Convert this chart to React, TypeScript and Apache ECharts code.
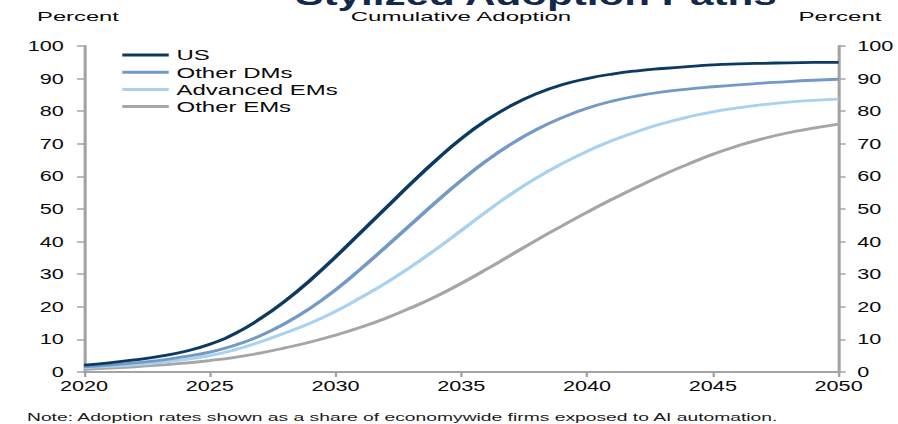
import React, { useEffect, useRef } from "react";
import * as echarts from "echarts";

// ---- data ----
const years = [
  2020, 2021, 2022, 2023, 2024, 2025, 2026, 2027, 2028, 2029, 2030, 2031, 2032, 2033, 2034, 2035,
  2036, 2037, 2038, 2039, 2040, 2041, 2042, 2043, 2044, 2045, 2046, 2047, 2048, 2049, 2050,
];
const seriesNames = ["US", "Other DMs", "Advanced EMs", "Other EMs"];
const us = [
  2.1, 2.8, 3.7, 4.8, 6.3, 8.5, 11.8, 16.3, 21.8, 28.2, 35.3, 42.8, 50.3, 57.8, 65.0, 71.6,
  77.2, 81.8, 85.4, 88.1, 90.0, 91.4, 92.4, 93.1, 93.7, 94.2, 94.5, 94.7, 94.85, 94.95, 95.0,
];
const otherDMs = [
  1.6, 2.1, 2.8, 3.6, 4.7, 6.1, 8.2, 11.1, 14.9, 19.6, 25.2, 31.6, 38.4, 45.3, 52.2, 58.8,
  64.8, 70.0, 74.4, 78.0, 80.9, 83.1, 84.7, 85.9, 86.8, 87.5, 88.1, 88.6, 89.1, 89.5, 89.8,
];
const advancedEMs = [
  1.3, 1.7, 2.2, 2.9, 3.8, 5.0, 6.8, 9.2, 12.0, 15.0, 18.6, 22.8, 27.3, 32.3, 37.7, 43.4,
  49.2, 54.7, 59.6, 63.9, 67.7, 71.0, 73.8, 76.2, 78.2, 79.8, 81.0, 82.0, 82.8, 83.3, 83.7,
];
const otherEMs = [
  0.8, 1.2, 1.6, 2.1, 2.7, 3.5, 4.5, 5.8, 7.4, 9.2, 11.3, 13.7, 16.5, 19.7, 23.2, 27.2,
  31.5, 36.0, 40.5, 44.8, 49.0, 53.0, 56.8, 60.4, 63.7, 66.8, 69.4, 71.6, 73.4, 74.8, 76.0,
];
const seriesValues = [us, otherDMs, advancedEMs, otherEMs];
const seriesColors = ["#0d3a63", "#7399c6", "#a9d2f0", "#a6a6a6"];

const titleText = "Stylized Adoption Paths";
const subtitleText = "Cumulative Adoption";
const unitText = "Percent";
const noteText = "Note: Adoption rates shown as a share of economywide firms exposed to AI automation.";

// ---- layout (the reference is horizontally stretched; we render narrow and stretch) ----
const FULL_W = 898;
const INNER_W = 580;
const H = 424;
const S = FULL_W / INNER_W;
const FAMILY = "'Liberation Sans', Arial, sans-serif";
const AXIS_GRAY = "#a3a3a3";
const TEXT_COLOR = "#0a0a0a";

function measure(text: string, size: number, weight: string) {
  const ctx = document.createElement("canvas").getContext("2d")!;
  ctx.font = `${weight} ${size}px "Liberation Sans"`;
  return ctx.measureText(text).width;
}

function fitText(
  text: string,
  xRef: number,
  yRef: number,
  widthRef: number,
  size: number,
  weight: string,
  color: string,
  align: "left" | "center"
) {
  const natural = measure(text, size, weight);
  const scaleX = widthRef / S / natural;
  return {
    type: "text",
    x: xRef / S,
    y: yRef,
    scaleX,
    silent: true,
    style: {
      text,
      fontSize: size,
      fontWeight: weight,
      fontFamily: FAMILY,
      fill: color,
      align,
      verticalAlign: "middle",
    },
  };
}

export default function App() {
  const ref = useRef<HTMLDivElement>(null);

  useEffect(() => {
    if (!ref.current) return;
    const chart = echarts.init(ref.current, null, { renderer: "svg" });

    const yAxisBase = (position: "left" | "right", margin: number) => ({
      type: "value",
      min: 0,
      max: 100,
      interval: 10,
      position,
      axisLine: { show: true, lineStyle: { color: AXIS_GRAY, width: 2 } },
      axisTick: { show: true, length: 4.5, lineStyle: { color: AXIS_GRAY, width: 1.5 } },
      axisLabel: { fontSize: 14, margin, color: TEXT_COLOR, fontFamily: FAMILY },
      splitLine: { show: false },
    });

    chart.setOption({
      animation: false,
      backgroundColor: "#ffffff",
      grid: {
        left: 84 / S,
        right: INNER_W - 841 / S,
        top: 46,
        bottom: 52,
      },
      legend: {
        orient: "vertical",
        left: 79,
        top: 47,
        padding: 0,
        icon: "rect",
        itemWidth: 30,
        itemHeight: 3,
        itemGap: 1.2,
        data: seriesNames,
        textStyle: { fontSize: 15.5, lineHeight: 16, color: TEXT_COLOR, fontFamily: FAMILY },
      },
      xAxis: {
        type: "value",
        min: 2020,
        max: 2050,
        interval: 5,
        axisLine: { show: true, lineStyle: { color: AXIS_GRAY, width: 2 } },
        axisTick: { show: true, length: 5, lineStyle: { color: AXIS_GRAY, width: 1.5 } },
        axisLabel: {
          fontSize: 14,
          margin: 7,
          color: TEXT_COLOR,
          fontFamily: FAMILY,
          formatter: (v: number) => String(v),
        },
        splitLine: { show: false },
      },
      yAxis: [yAxisBase("left", 13), yAxisBase("right", 12)],
      series: seriesNames.map((name, i) => ({
        name,
        type: "line",
        yAxisIndex: 0,
        smooth: true,
        symbol: "none",
        showSymbol: false,
        color: seriesColors[i],
        lineStyle: { width: 2.8, color: seriesColors[i] },
        data: years.map((y, j) => [y, seriesValues[i][j]]),
        z: 10 - i,
      })),
      graphic: [
        fitText(titleText, 536, -5.4, 483, 30, "bold", "#13294b", "center"),
        fitText(subtitleText, 461, 16.5, 222, 12.5, "normal", TEXT_COLOR, "center"),
        fitText(unitText, 78, 16.5, 82, 12.5, "normal", TEXT_COLOR, "center"),
        fitText(unitText, 840, 16.5, 83, 12.5, "normal", TEXT_COLOR, "center"),
        fitText(noteText, 27, 417, 753, 10.3, "normal", "#1a1a1a", "left"),
      ],
    });

    return () => chart.dispose();
  }, []);

  return (
    <div
      style={{
        position: "fixed",
        left: 0,
        top: 0,
        width: FULL_W,
        height: H,
        overflow: "hidden",
        background: "#ffffff",
      }}
    >
      <div
        ref={ref}
        style={{
          width: INNER_W,
          height: H,
          transform: `scaleX(${S})`,
          transformOrigin: "0 0",
        }}
      />
    </div>
  );
}
